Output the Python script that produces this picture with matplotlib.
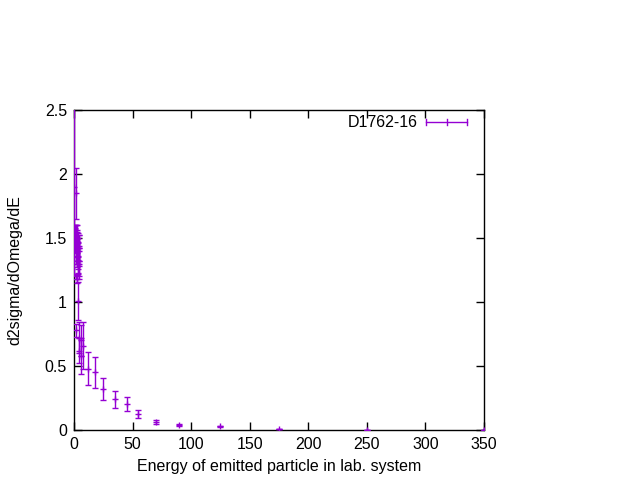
import matplotlib
matplotlib.use("Agg")
import matplotlib.pyplot as plt
from matplotlib.lines import Line2D

plt.rcParams['font.family'] = ['Liberation Sans', 'DejaVu Sans']

energy = [0.3, 0.6, 0.8, 1.0, 1.2, 1.3, 1.5, 1.6, 1.7, 1.9, 2.1, 2.2, 2.4, 2.5, 2.6, 2.8, 3.0, 3.1,
          3.3, 3.4, 3.6, 3.7, 3.9, 4.0, 4.0, 4.2, 4.3, 4.5, 5.7, 6.0, 8.0, 12.0, 17.5,
          25, 35, 45, 55, 70, 90, 125, 175, 250, 350]
d2sigma = [1.90, 1.57, 1.52, 1.55, 1.47, 1.20, 1.50, 1.85, 0.78, 1.50, 1.40, 1.45, 1.38, 1.18, 1.44, 1.48, 1.36, 1.40,
           1.42, 1.01, 1.33, 1.35, 1.40, 1.42, 0.72, 1.32, 1.30, 0.62, 0.70, 0.58, 0.66, 0.48, 0.45,
           0.32, 0.24, 0.20, 0.125, 0.062, 0.040, 0.030, 0.006, 0.002, 0.0]
d2sigma_err = [0.70, 0.03, 0.06, 0.05, 0.08, 0.02, 0.10, 0.20, 0.05, 0.10, 0.10, 0.10, 0.11, 0.03, 0.12, 0.12, 0.10, 0.10,
               0.12, 0.15, 0.11, 0.12, 0.12, 0.10, 0.12, 0.12, 0.12, 0.10, 0.12, 0.14, 0.18, 0.13, 0.12,
               0.085, 0.065, 0.055, 0.03, 0.018, 0.01, 0.005, 0.002, 0.0, 0.0]
series_label = "D1762-16"
x_ticks = [0, 50, 100, 150, 200, 250, 300, 350]
y_ticks = [0, 0.5, 1, 1.5, 2, 2.5]
y_tick_labels = ["0", "0.5", "1", "1.5", "2", "2.5"]

color = '#9400D3'
fig = plt.figure(figsize=(6.4, 4.8), dpi=100)
ax = fig.add_axes([74/640, 50/480, 410/640, 320/480])

ax.errorbar(energy, d2sigma, yerr=d2sigma_err, fmt='+', color=color, ecolor=color,
            elinewidth=1.0, capsize=2.5, capthick=1.0, markersize=5, markeredgewidth=1.0,
            clip_on=True, zorder=3)

ax.set_xlim(0, 350)
ax.set_ylim(0, 2.5)
ax.set_xticks(x_ticks)
ax.set_xticklabels([str(t) for t in x_ticks])
ax.set_yticks(y_ticks)
ax.set_yticklabels(y_tick_labels)
ax.tick_params(direction='in', top=True, right=True, length=6, width=1, labelsize=11.5, pad=5)
for s in ax.spines.values():
    s.set_linewidth(1.0)
ax.set_xlabel("Energy of emitted particle in lab. system", fontsize=11.5, labelpad=5)
ax.set_ylabel("d2sigma/dOmega/dE", fontsize=11.5, labelpad=16)

# legend (gnuplot style key)
def fx(px):
    return (px - 74) / 410
def fy(py):
    return (430 - py) / 320
ky = fy(122)
ax.add_line(Line2D([fx(426), fx(467)], [ky, ky], color=color, lw=1, transform=ax.transAxes, clip_on=False))
for xp in (426, 446.5, 467):
    ax.add_line(Line2D([fx(xp), fx(xp)], [fy(119), fy(125)], color=color, lw=1, transform=ax.transAxes, clip_on=False))
ax.text(fx(418), ky, series_label, transform=ax.transAxes, ha='right', va='center', fontsize=11.5)

fig.savefig("out.png", dpi=100)
